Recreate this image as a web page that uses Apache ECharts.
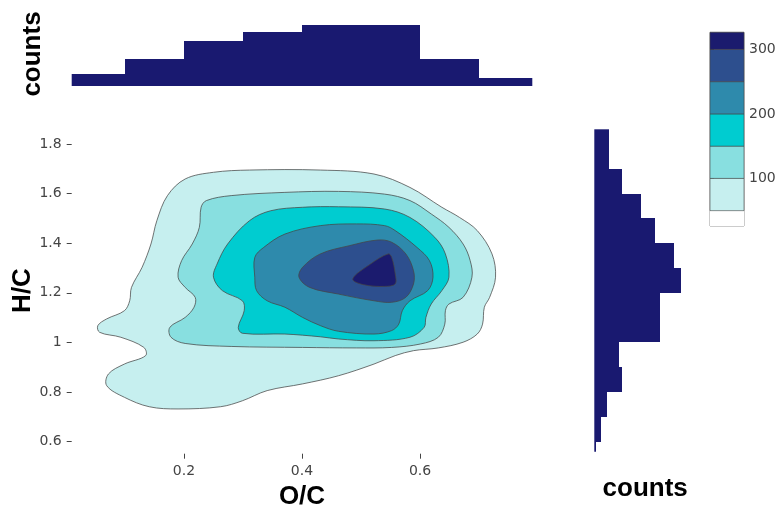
<!DOCTYPE html>
<html>
<head>
<meta charset="utf-8">
<script src="https://cdn.jsdelivr.net/npm/echarts@6/dist/echarts.min.js"></script>
<style>
  html, body { margin: 0; padding: 0; background: #fff; }
  #main { width: 781px; height: 508px; }
</style>
</head>
<body>
<div id="main"></div>
<script>
// O/C marginal histogram (bin edges and counts)
const ocBinEdges = [0.0, 0.1, 0.2, 0.3, 0.4, 0.5, 0.6, 0.7, 0.8];
const ocCounts = [26, 59, 99, 119, 133, 134, 59, 18];

// H/C marginal histogram
const hcBinEdges = [0.5, 0.6, 0.7, 0.8, 0.9, 1.0, 1.1, 1.2, 1.3, 1.4, 1.5, 1.6, 1.7, 1.8, 1.9];
const hcCounts = [2, 8, 15, 33, 30, 79, 79, 104, 96, 73, 56, 33, 18, 18];

// contour levels (counts) and the outline of each level, [O/C, H/C]
const contourLevels = [50, 100, 150, 200, 250, 300];
const level50 = [
  [0.154, 1.491], [0.172, 1.592], [0.202, 1.659], [0.250, 1.686], [0.311, 1.695],
  [0.431, 1.695], [0.522, 1.679], [0.583, 1.625], [0.637, 1.545], [0.667, 1.504],
  [0.697, 1.451], [0.722, 1.357], [0.728, 1.263], [0.718, 1.182], [0.709, 1.142],
  [0.706, 1.074], [0.697, 1.034], [0.673, 1.001], [0.631, 0.978], [0.589, 0.967],
  [0.558, 0.947], [0.522, 0.913], [0.462, 0.866], [0.401, 0.833], [0.341, 0.806],
  [0.299, 0.765], [0.262, 0.741], [0.190, 0.732], [0.141, 0.741], [0.099, 0.779],
  [0.069, 0.826], [0.072, 0.873], [0.099, 0.913], [0.135, 0.947], [0.132, 0.980],
  [0.093, 1.021], [0.057, 1.041], [0.054, 1.068], [0.069, 1.095], [0.099, 1.128],
  [0.108, 1.168], [0.111, 1.222], [0.129, 1.303], [0.144, 1.397]
];
const level100 = [
  [0.229, 1.545], [0.238, 1.572], [0.280, 1.592], [0.371, 1.605], [0.462, 1.609],
  [0.540, 1.598], [0.583, 1.572], [0.619, 1.518], [0.649, 1.464], [0.673, 1.397],
  [0.685, 1.330], [0.688, 1.263], [0.673, 1.182], [0.649, 1.155], [0.643, 1.128],
  [0.642, 1.074], [0.631, 1.021], [0.601, 0.994], [0.552, 0.980], [0.492, 0.978],
  [0.401, 0.980], [0.280, 0.984], [0.202, 0.996], [0.178, 1.021], [0.176, 1.061],
  [0.202, 1.101], [0.217, 1.142], [0.219, 1.182], [0.202, 1.222], [0.190, 1.263],
  [0.196, 1.330], [0.214, 1.397], [0.226, 1.464]
];
const level150 = [
  [0.274, 1.397], [0.311, 1.491], [0.347, 1.531], [0.401, 1.545], [0.462, 1.547],
  [0.540, 1.538], [0.583, 1.504], [0.625, 1.424], [0.643, 1.357], [0.649, 1.263],
  [0.637, 1.209], [0.619, 1.155], [0.610, 1.101], [0.607, 1.061], [0.583, 1.021],
  [0.522, 1.007], [0.462, 1.014], [0.431, 1.023], [0.371, 1.034], [0.299, 1.037],
  [0.292, 1.061], [0.302, 1.128], [0.299, 1.168], [0.265, 1.209], [0.250, 1.263],
  [0.256, 1.316]
];
const level200 = [
  [0.320, 1.343], [0.335, 1.383], [0.371, 1.437], [0.431, 1.471], [0.492, 1.478],
  [0.540, 1.471], [0.558, 1.451], [0.595, 1.383], [0.616, 1.330], [0.622, 1.263],
  [0.613, 1.209], [0.583, 1.168], [0.570, 1.128], [0.564, 1.074], [0.552, 1.048],
  [0.522, 1.034], [0.462, 1.045], [0.431, 1.068], [0.401, 1.101], [0.371, 1.142],
  [0.341, 1.168], [0.323, 1.209], [0.320, 1.263]
];
const level250 = [
  [0.395, 1.263], [0.401, 1.303], [0.431, 1.357], [0.480, 1.390], [0.528, 1.413],
  [0.552, 1.404], [0.576, 1.357], [0.589, 1.289], [0.589, 1.236], [0.576, 1.182],
  [0.552, 1.162], [0.522, 1.168], [0.462, 1.195], [0.413, 1.222]
];
const level300 = [
  [0.486, 1.256], [0.516, 1.316], [0.546, 1.357], [0.552, 1.343], [0.558, 1.276],
  [0.558, 1.236], [0.540, 1.226], [0.504, 1.233]
];
const contourShapes = [level50, level100, level150, level200, level250, level300];

// colorbar bands
const colorbarEdges = [26.2, 50, 100, 150, 200, 250, 300, 326.5];
const colorbarTicks = [100, 200, 300];
const xTicks = [0.2, 0.4, 0.6];
const yTicks = [0.6, 0.8, 1.0, 1.2, 1.4, 1.6, 1.8];

const bandColors = ['#ffffff', '#c6efef', '#88dfe0', '#00ccd0', '#2e8aac', '#2d4f8e', '#1b1b6e'];
const barColor = '#191970';
const lineColor = 'rgba(70,70,70,0.75)';
const tickFont = { fontFamily: 'DejaVu Sans', fontSize: 14, color: '#444' };
const titleFont = { fontFamily: 'Liberation Sans', fontSize: 26, fontWeight: 'bold', color: '#000' };

const chart = echarts.init(document.getElementById('main'));

function clipTo(params, shape) {
  return echarts.graphic.clipRectByRect(shape, {
    x: params.coordSys.x, y: params.coordSys.y,
    width: params.coordSys.width, height: params.coordSys.height
  });
}

// snap bar corners to whole pixels so neighbouring bars leave no seams
function snapRect(p1, p2) {
  const x1 = Math.round(p1[0]), x2 = Math.round(p2[0]);
  const y1 = Math.round(p1[1]), y2 = Math.round(p2[1]);
  return { x: x1, y: y2, width: x2 - x1, height: y1 - y2 };
}

function topHistItem(params, api) {
  const p1 = api.coord([api.value(0), 0]);
  const p2 = api.coord([api.value(1), api.value(2)]);
  const shape = clipTo(params, snapRect(p1, p2));
  return shape && { type: 'rect', shape: shape, style: { fill: barColor } };
}

function rightHistItem(params, api) {
  const p1 = api.coord([0, api.value(0)]);
  const p2 = api.coord([api.value(2), api.value(1)]);
  const shape = clipTo(params, snapRect(p1, p2));
  return shape && { type: 'rect', shape: shape, style: { fill: barColor } };
}

function colorbarItem(params, api) {
  const i = params.dataIndex;
  const p1 = api.coord([0, api.value(0)]);
  const p2 = api.coord([1, api.value(1)]);
  return {
    type: 'rect',
    shape: { x: p1[0], y: p2[1], width: p2[0] - p1[0], height: p1[1] - p2[1] },
    style: { fill: bandColors[i], stroke: i > 0 ? 'rgba(70,70,70,0.6)' : null, lineWidth: 1 }
  };
}

const ocHistData = ocCounts.map((c, i) => [ocBinEdges[i], ocBinEdges[i + 1], c]);
const hcHistData = hcCounts.map((c, i) => [hcBinEdges[i], hcBinEdges[i + 1], c]);
const colorbarData = bandColors.map((c, i) => [colorbarEdges[i], colorbarEdges[i + 1]]);

const contourSeries = contourShapes.map((pts, k) => ({
  type: 'custom',
  xAxisIndex: 0,
  yAxisIndex: 0,
  z: 2 + k,
  silent: true,
  data: [pts[0]],
  renderItem: (params, api) => ({
    type: 'polygon',
    shape: { points: pts.map(p => api.coord(p)), smooth: 0.35 },
    style: { fill: bandColors[k + 1], stroke: lineColor, lineWidth: 1 }
  })
}));

const hiddenAxis = {
  axisLine: { show: false }, axisTick: { show: false },
  axisLabel: { show: false }, splitLine: { show: false }
};

const option = {
  animation: false,
  grid: [
    // main contour
    { left: 71.7, top: 129.3, width: 460.6, height: 322.4, outerBoundsMode: 'none' },
    // top histogram
    { left: 71.7, top: 22, width: 460.6, height: 64, outerBoundsMode: 'none' },
    // right histogram
    { left: 594.3, top: 129.3, width: 101.7, height: 322.4, outerBoundsMode: 'none' },
    // colorbar
    { left: 710, top: 32.3, width: 34, height: 193.7, show: true, borderColor: '#999',
      borderWidth: 1, backgroundColor: 'transparent', outerBoundsMode: 'none' }
  ],
  xAxis: [
    {
      gridIndex: 0, type: 'value', min: 0.0097, max: 0.7903, offset: 2,
      name: 'O/C', nameLocation: 'middle', nameGap: 30, nameMoveOverlap: false,
      nameTextStyle: titleFont,
      axisLine: { show: false },
      axisTick: { show: true, customValues: xTicks, length: 5, lineStyle: { color: '#444' } },
      axisLabel: Object.assign({ customValues: xTicks, margin: 11, formatter: v => String(+v.toFixed(1)) }, tickFont),
      splitLine: { show: false }
    },
    Object.assign({ gridIndex: 1, type: 'value', min: 0.0097, max: 0.7903 }, hiddenAxis),
    Object.assign({
      gridIndex: 2, type: 'value', min: 0, max: 122,
      name: 'counts', nameLocation: 'middle', nameGap: 24, nameMoveOverlap: false,
      nameTextStyle: titleFont
    }, hiddenAxis),
    Object.assign({ gridIndex: 3, type: 'value', min: 0, max: 1 }, hiddenAxis)
  ],
  yAxis: [
    {
      gridIndex: 0, type: 'value', min: 0.5597, max: 1.8593,
      name: 'H/C', nameLocation: 'middle', nameGap: 36, nameMoveOverlap: false,
      nameTextStyle: titleFont,
      axisLine: { show: false },
      axisTick: { show: true, customValues: yTicks, length: 5, lineStyle: { color: '#444' } },
      axisLabel: Object.assign({ customValues: yTicks, margin: 10, formatter: v => String(+v.toFixed(1)) }, tickFont),
      splitLine: { show: false }
    },
    Object.assign({
      gridIndex: 1, type: 'value', min: 0, max: 140,
      name: 'counts', nameLocation: 'middle', nameGap: 26, nameMoveOverlap: false,
      nameTextStyle: titleFont
    }, hiddenAxis),
    Object.assign({ gridIndex: 2, type: 'value', min: 0.5597, max: 1.8593 }, hiddenAxis),
    {
      gridIndex: 3, type: 'value', min: 26.2, max: 326.5, position: 'right',
      axisLine: { show: false },
      axisTick: { show: true, customValues: colorbarTicks, length: 4, lineStyle: { color: '#444' } },
      axisLabel: Object.assign({ customValues: colorbarTicks, margin: 5 }, tickFont),
      splitLine: { show: false }
    }
  ],
  series: contourSeries.concat([
    {
      type: 'custom', xAxisIndex: 1, yAxisIndex: 1, silent: true,
      encode: { x: [0, 1], y: 2 },
      data: ocHistData, renderItem: topHistItem
    },
    {
      type: 'custom', xAxisIndex: 2, yAxisIndex: 2, silent: true,
      encode: { x: 2, y: [0, 1] },
      data: hcHistData, renderItem: rightHistItem
    },
    {
      type: 'custom', xAxisIndex: 3, yAxisIndex: 3, silent: true,
      encode: { x: -1, y: [0, 1] },
      data: colorbarData, renderItem: colorbarItem
    }
  ])
};

chart.setOption(option);
</script>
</body>
</html>
